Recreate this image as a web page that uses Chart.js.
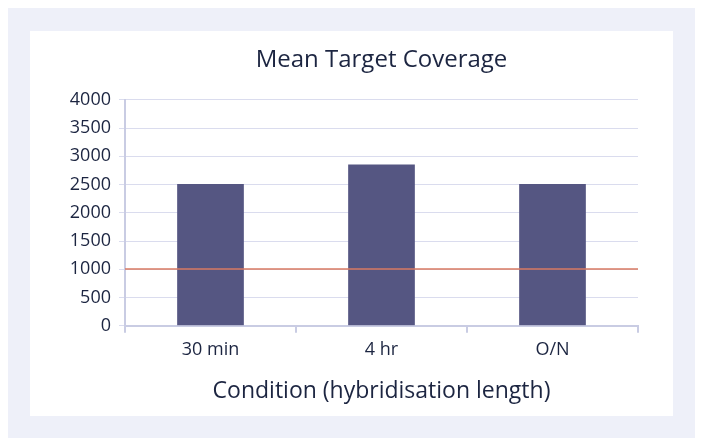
<!DOCTYPE html>
<html><head><meta charset="utf-8">
<script src="https://cdn.jsdelivr.net/npm/chart.js@4"></script>
<style>
html,body{margin:0;padding:0;background:#fff;width:703px;height:447px;overflow:hidden;}
#outer{position:absolute;left:8px;top:8px;width:687px;height:430px;background:#eef0f9;}
#inner{position:absolute;left:30px;top:31px;width:643px;height:385px;background:#fff;}
#wrap{position:absolute;left:0;top:0;width:703px;height:447px;}
</style></head>
<body>
<div id="outer"></div><div id="inner"></div>
<div id="wrap"><canvas id="c" width="703" height="447"></canvas></div>
<script>
const categories = ["30 min", "4 hr", "O/N"];
const coverage = [2510, 2855, 2510];
const thresholdValue = 1000;
const yTicks = [0, 500, 1000, 1500, 2000, 2500, 3000, 3500, 4000];

const textColor = "#1c2541";
const fontFamily = "'Open Sans', Lato, sans-serif";

const thresholdPlugin = {
  id: "threshold",
  afterDatasetsDraw(chart) {
    const {ctx, chartArea, scales} = chart;
    const y = Math.round(scales.y.getPixelForValue(thresholdValue));
    ctx.save();
    ctx.strokeStyle = "#d97a62";
    ctx.lineWidth = 1.5;
    ctx.beginPath();
    ctx.moveTo(chartArea.left, y);
    ctx.lineTo(chartArea.right, y);
    ctx.stroke();
    ctx.restore();
  }
};

new Chart(document.getElementById("c"), {
  type: "bar",
  data: {
    labels: categories,
    datasets: [{
      data: coverage,
      backgroundColor: "#555682",
      borderWidth: 0,
      categoryPercentage: 1,
      barPercentage: 0.39
    }]
  },
  options: {
    responsive: false,
    animation: false,
    devicePixelRatio: 1,
    layout: {padding: {left: 30, right: 65, top: 0, bottom: 42}},
    plugins: {
      legend: {display: false},
      tooltip: {enabled: false},
      title: {
        display: true,
        fullSize: false,
        text: "Mean Target Coverage",
        color: textColor,
        font: {family: fontFamily, size: 24, weight: "normal"},
        padding: {top: 46, bottom: 25}
      }
    },
    scales: {
      x: {
        grid: {display: true, drawOnChartArea: false, drawTicks: true, tickLength: 7, color: "#c9cce3", lineWidth: 2},
        border: {display: true, color: "#c9cce3", width: 2},
        ticks: {color: textColor, font: {family: fontFamily, size: 18}, padding: 6},
        title: {display: true, text: "Condition (hybridisation length)", color: textColor,
                font: {family: fontFamily, size: 23}, padding: {top: 11, bottom: 0}}
      },
      y: {
        min: 0, max: 4000,
        afterBuildTicks(scale) { scale.ticks = yTicks.map(v => ({value: v})); },
        afterFit(scale) { scale.width = 95; },
        grid: {color: "#dadcee", lineWidth: 1, tickLength: 6, drawTicks: true},
        border: {display: true, color: "#c9cce3", width: 2},
        ticks: {color: textColor, font: {family: fontFamily, size: 18}, padding: 8,
                callback: v => String(v)}
      }
    }
  },
  plugins: [thresholdPlugin]
});
</script>
</body></html>
